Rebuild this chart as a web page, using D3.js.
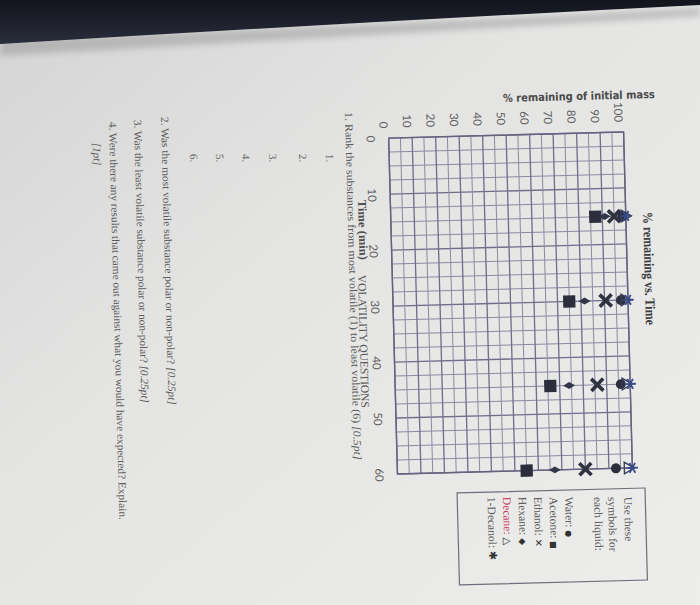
<!DOCTYPE html>
<html><head><meta charset="utf-8">
<script src="https://cdn.jsdelivr.net/npm/d3@7"></script>
<style>html,body{margin:0;padding:0;background:#e4e4e3;}svg{display:block}</style>
</head><body>
<svg id="c" width="700" height="605"></svg>
<script>
// ---- data ----
const times   = [15, 30, 45, 60];
const water   = [98.5, 97, 96, 93];
const acetone = [87, 75, 66, 55];
const ethanol = [95, 90.5, 86, 80];
const hexane  = [91, 81.5, 74, 67];
const decane  = [99.5, 98.5, 98, 98];
const decanol = [100, 100, 100, 100];
const xTickValues = [0, 10, 20, 30, 40, 50, 60];
const yTickValues = [0, 10, 20, 30, 40, 50, 60, 70, 80, 90, 100];
const legendNames = ["Water", "Acetone", "Ethanol", "Hexane", "Decane", "1-Decanol"];
const legendGlyphs = ["●", "■", "✕", "◆", "△", "✱"];

const W = 700, H = 605;
const svg = d3.select("#c");
const defs = svg.append("defs");

// paper background
const pg = defs.append("linearGradient").attr("id","paper")
  .attr("x1","0").attr("y1","0").attr("x2","1").attr("y2","1");
pg.append("stop").attr("offset","0").attr("stop-color","#d4d4d4");
pg.append("stop").attr("offset","0.4").attr("stop-color","#e4e4e3");
pg.append("stop").attr("offset","1").attr("stop-color","#ededec");
svg.append("rect").attr("width",W).attr("height",H).attr("fill","url(#paper)");

// dark band at top of the photo
const bd = defs.append("linearGradient").attr("id","band")
  .attr("x1","0").attr("y1","0").attr("x2","0").attr("y2","1");
bd.append("stop").attr("offset","0").attr("stop-color","#12141c");
bd.append("stop").attr("offset","1").attr("stop-color","#2a2d3b");
defs.append("filter").attr("id","blur").append("feGaussianBlur").attr("stdDeviation",3);
svg.append("path").attr("d","M0,40 Q360,26 700,8 L700,16 Q360,36 0,56 Z")
  .attr("fill","#8e8e90").attr("opacity",0.45).attr("filter","url(#blur)");
svg.append("path").attr("d","M0,0 L700,0 L700,5 Q360,22 0,44 Z").attr("fill","url(#band)");

// ---- page (drawn upright, then rotated like the photo) ----
const cx = 302, cy = 190, ang = -1.5;
const page = svg.append("g")
  .attr("transform", `translate(${W},0) rotate(90) rotate(${ang},${cx},${cy})`);
const rad = -ang * Math.PI / 180;
function place(X, Y) { // position before the small tilt so it lands at (X,Y)
  const dx = X - cx, dy = Y - cy;
  return [cx + dx*Math.cos(rad) - dy*Math.sin(rad), cy + dx*Math.sin(rad) + dy*Math.cos(rad)];
}

const x = d3.scaleLinear().domain([0, 60]).range([135, 471]);
const y = d3.scaleLinear().domain([0, 100]).range([307, 72]);

// grid
const grid = page.append("g");
grid.selectAll("line.v").data(d3.range(0, 60.001, 2.5)).join("line")
  .attr("x1", d => x(d)).attr("x2", d => x(d)).attr("y1", y(0)).attr("y2", y(100))
  .attr("stroke", d => d % 10 === 0 ? "#6e6d8a" : "#8b8aa2")
  .attr("stroke-width", d => d % 10 === 0 ? 1.3 : 1);
grid.selectAll("line.h").data(d3.range(0, 100.001, 5)).join("line")
  .attr("y1", d => y(d)).attr("y2", d => y(d)).attr("x1", x(0)).attr("x2", x(60))
  .attr("stroke", d => d % 10 === 0 ? "#6e6d8a" : "#8b8aa2")
  .attr("stroke-width", d => d % 10 === 0 ? 1.3 : 1);
grid.append("rect").attr("x", x(0)).attr("y", y(100))
  .attr("width", x(60)-x(0)).attr("height", y(0)-y(100))
  .attr("fill","none").attr("stroke","#64637f").attr("stroke-width",1.4);

// axes
const yAxis = page.append("g").attr("transform", `translate(${x(0)},0)`)
  .call(d3.axisLeft(y).tickValues(yTickValues).tickSize(0).tickPadding(10));
yAxis.select(".domain").remove();
yAxis.selectAll("text").attr("dy","0.73em")
  .style("font-family","Lato, 'Open Sans', sans-serif").style("font-size","11.5px").attr("fill","#5e5e5e");

const xAxis = page.append("g").attr("transform", `translate(0,${y(0)})`)
  .call(d3.axisBottom(x).tickValues(xTickValues).tickSize(0).tickPadding(14));
xAxis.select(".domain").remove();
xAxis.selectAll("text")
  .style("font-family","Lato, 'Open Sans', sans-serif").style("font-size","11.5px").attr("fill","#5e5e5e");

// series markers
const series = [
  {name:"Water",     vals: water,   sym: d3.symbolCircle,   size: 78,  fill:"#2c2f3b", stroke:"none", sw:0},
  {name:"Acetone",   vals: acetone, sym: d3.symbolSquare,   size: 150, fill:"#2c2f3b", stroke:"none", sw:0},
  {name:"Ethanol",   vals: ethanol, sym: d3.symbolX,        size: 96,  fill:"none",    stroke:"#2e3241", sw:3.6},
  {name:"Hexane",    vals: hexane,  sym: d3.symbolDiamond,  size: 42,  fill:"#323648", stroke:"none", sw:0},
  {name:"Decane",    vals: decane,  sym: d3.symbolTriangle, size: 58,  fill:"none",    stroke:"#3a3f5a", sw:1.4},
  {name:"1-Decanol", vals: decanol, sym: d3.symbolAsterisk, size: 90,  fill:"none",    stroke:"#3a4888", sw:1.8}
];
series.forEach(s => {
  page.append("g").selectAll("path").data(times.map((t,i) => ({t, v: s.vals[i]}))).join("path")
    .attr("transform", d => `translate(${x(d.t)},${y(d.v)})`)
    .attr("d", d3.symbol().type(s.sym).size(s.size))
    .attr("fill", s.fill).attr("stroke", s.stroke).attr("stroke-width", s.sw);
});

// text helper
const serif = "'Liberation Serif', 'DejaVu Serif', serif";
function txt(X, Y, str, opts = {}) {
  const [px, py] = place(X, Y);
  const t = page.append("text").attr("x", px).attr("y", py)
    .style("font-family", opts.font || serif).style("font-size", (opts.size || 11) + "px")
    .style("font-weight", opts.weight || "normal").style("font-style", opts.style || "normal")
    .attr("fill", opts.fill || "#5a5a5a");
  if (opts.parts) {
    opts.parts.forEach(p => t.append("tspan").text(p.t)
      .style("font-style", p.style || null).style("font-family", p.font || null)
      .style("font-size", p.size ? p.size + "px" : null).attr("fill", p.fill || null));
  } else t.text(str);
  if (opts.len) t.attr("textLength", opts.len).attr("lengthAdjust", "spacingAndGlyphs");
  return t;
}

// title
txt(212, 57, "% remaining vs. Time", {size: 14, weight: "bold", fill: "#3e3e3e", len: 113});

// y axis title (vertical)
{
  const [px, py] = place(102, 197);
  page.append("text").attr("transform", `translate(${px},${py}) rotate(-90)`)
    .style("font-family","'DejaVu Sans Condensed','Liberation Sans Narrow','DejaVu Sans',sans-serif")
    .style("font-size","11px").style("font-weight","bold").attr("fill","#4a4a4a")
    .attr("textLength", 152).attr("lengthAdjust","spacingAndGlyphs")
    .text("% remaining of initial mass");
}

// x axis title + section header
txt(200, 342, "Time (min)", {size: 12, weight: "bold", fill: "#4e4e4e", len: 60});
txt(275, 342, "VOLATILITY QUESTIONS", {size: 11.5, fill: "#555", len: 133});

// questions
txt(112, 355, "", {size: 11, len: 348, parts: [
  {t: "1.  Rank the substances from most volatile (1) to least volatile (6) "},
  {t: "[0.5pt]", style: "italic"}]});
["1.", "2.", "3.", "4.", "5.", "6."].forEach((s, i) => {
  txt(154, [374, 401, 431, 458, 484, 510][i], s, {size: 11, fill: "#666"});
});
txt(117, 539, "", {size: 11, len: 288, parts: [
  {t: "2.  Was the most volatile substance polar or non-polar? "},
  {t: "[0.25pt]", style: "italic"}]});
txt(120, 566, "", {size: 11, len: 283, parts: [
  {t: "3.  Was the least volatile substance polar or non-polar? "},
  {t: "[0.25pt]", style: "italic"}]});
txt(122, 591, "4.  Were there any results that came out against what you would have expected?  Explain.",
  {size: 11, len: 398});
txt(143, 607, "[1pt]", {size: 11, style: "italic"});

// legend box
{
  const [px, py] = place(488, 55);
  page.append("rect").attr("x", px).attr("y", py).attr("width", 92).attr("height", 188)
    .attr("fill", "none").attr("stroke", "#6e6e7a").attr("stroke-width", 1.2);
}
txt(497, 76, "Use these", {size: 11.5});
txt(497, 92, "symbols for", {size: 11.5});
txt(497, 106, "each liquid:", {size: 11.5});
const glyphSizes = [8, 8, 10, 9, 10, 11];
legendNames.forEach((n, i) => {
  const Y = 135 + i * 15.5;
  txt(497, Y, "", {size: 11.5, parts: [
    {t: n + ": ", fill: n === "Decane" ? "#c9405c" : null},
    {t: legendGlyphs[i], font: "'DejaVu Sans', sans-serif", size: glyphSizes[i], fill: "#333"}]});
});
</script>
</body></html>
